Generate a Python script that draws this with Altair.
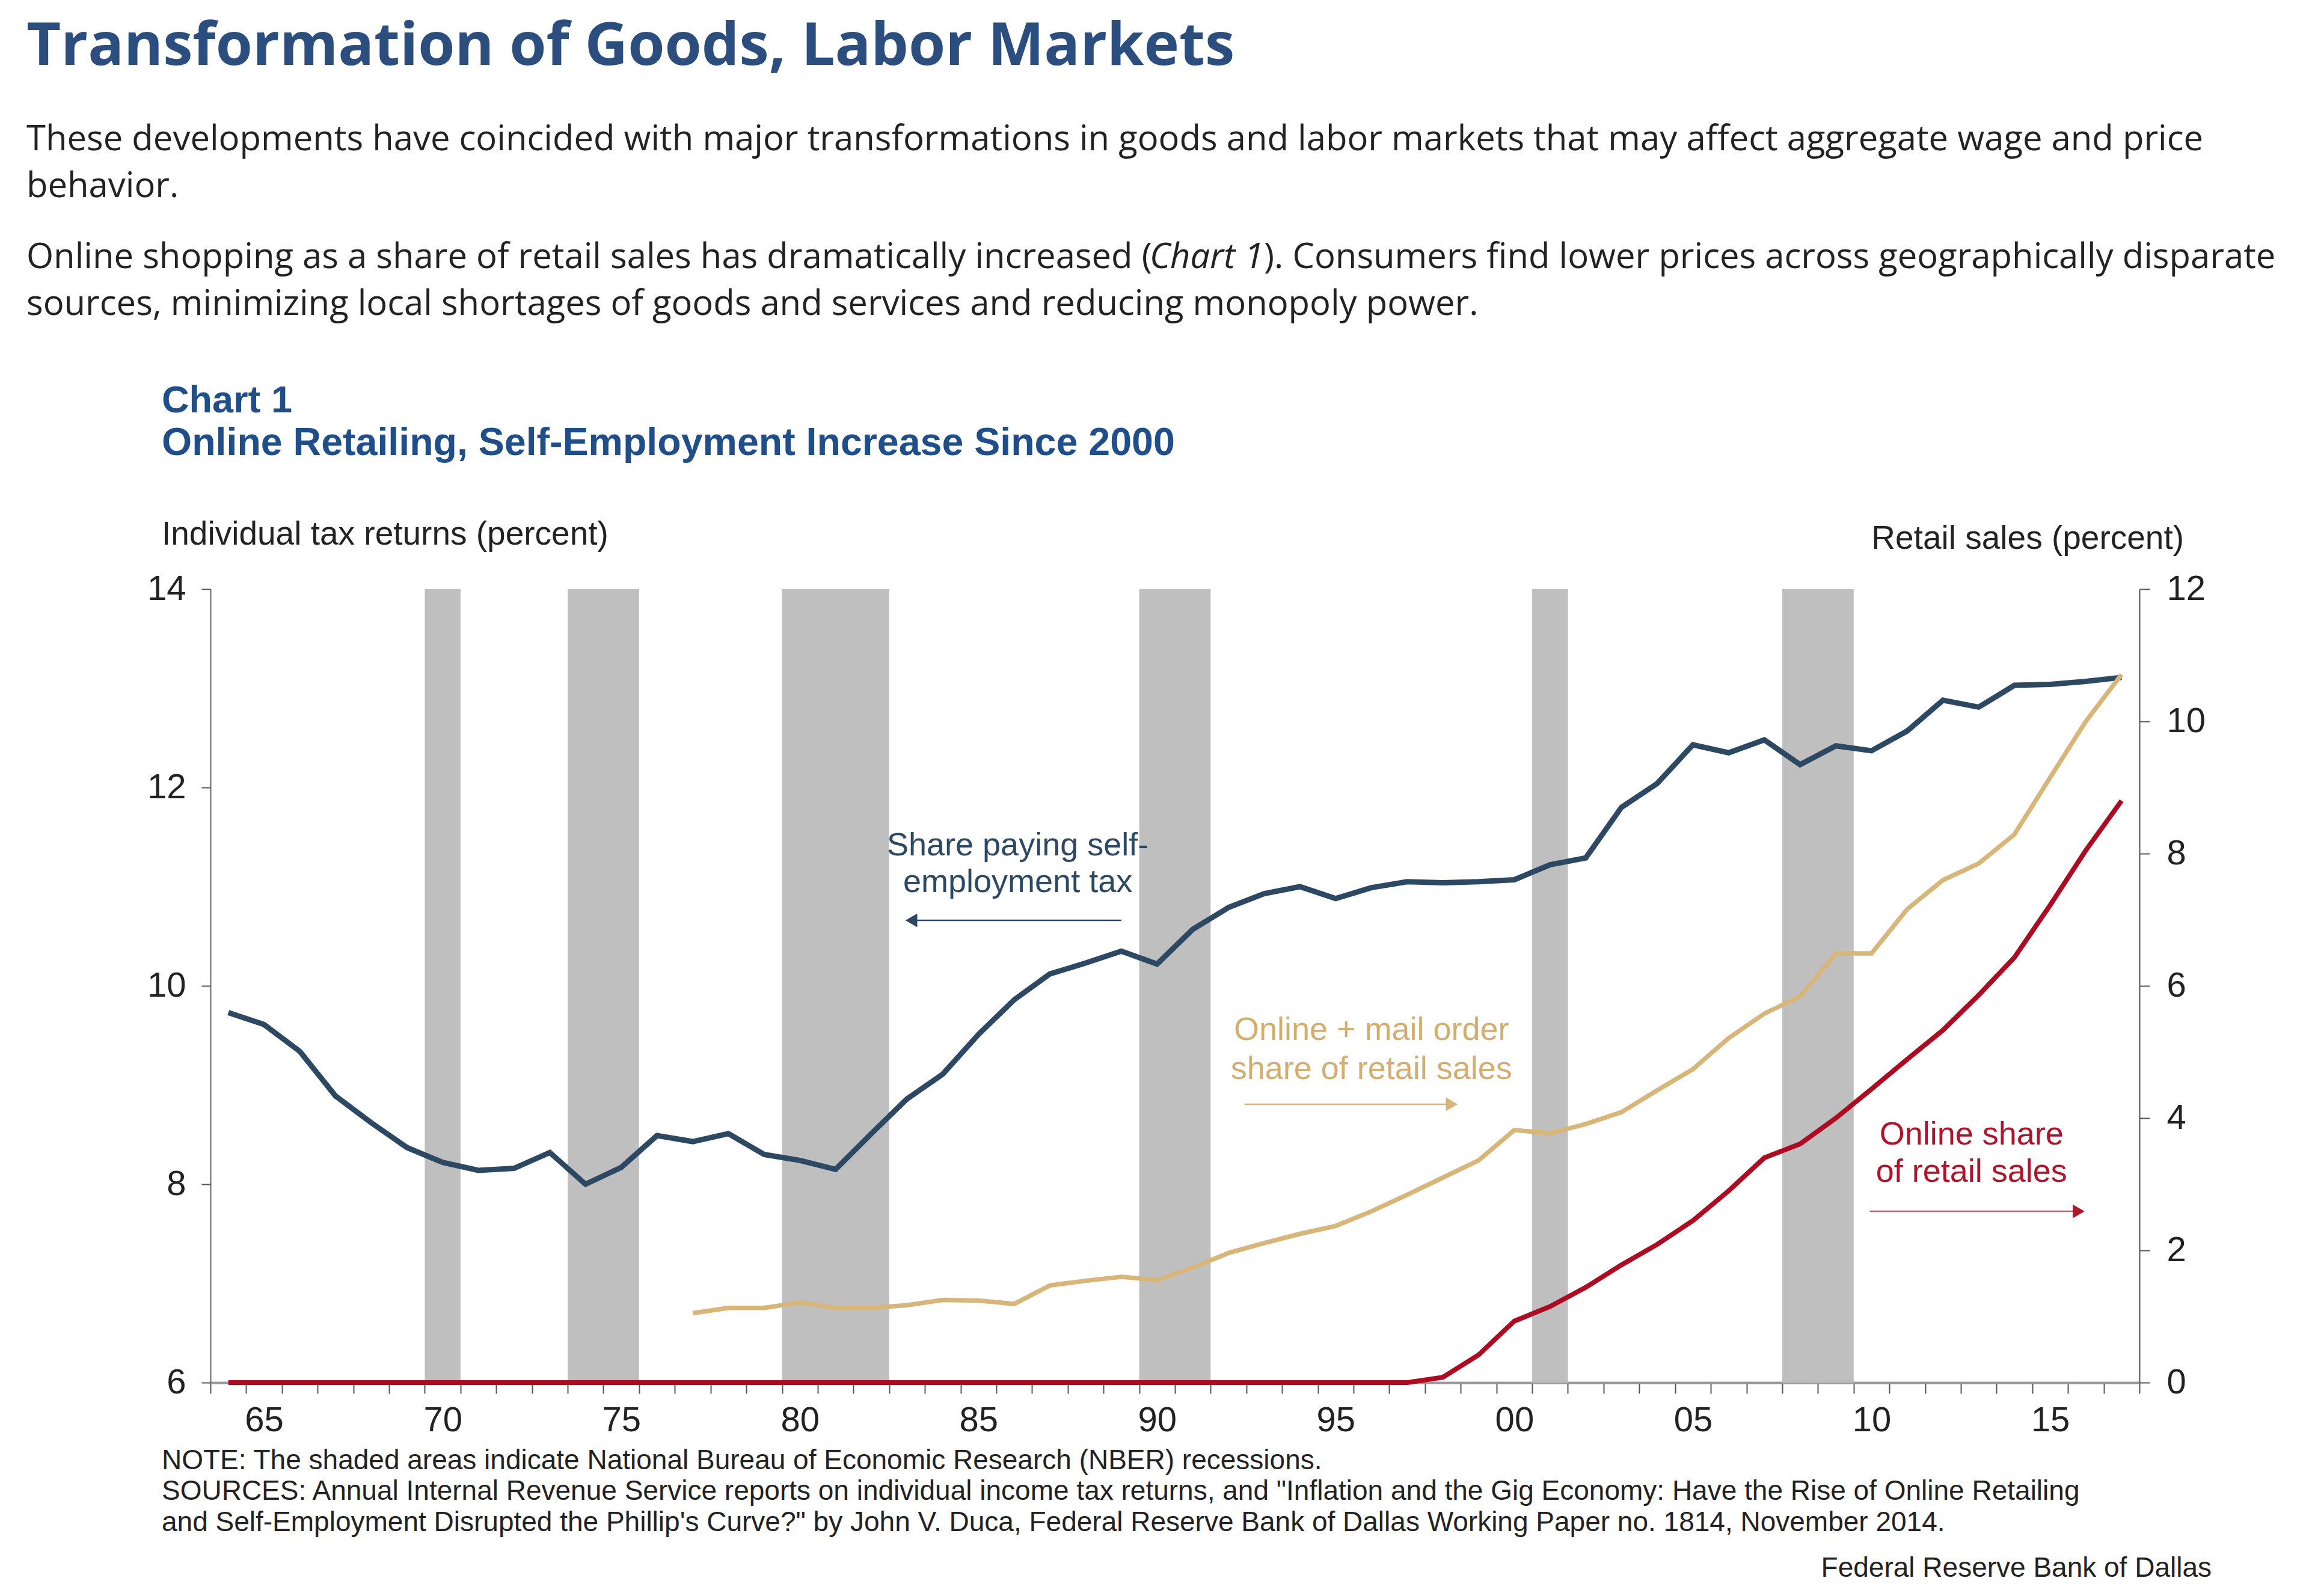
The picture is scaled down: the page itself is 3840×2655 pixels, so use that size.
import altair as alt
import pandas as pd

# ---------------- data ----------------
years = list(range(1964, 2018))
self_employment = [9.73, 9.61, 9.34, 8.89, 8.62, 8.37, 8.22, 8.14, 8.16, 8.32,
                   8.00, 8.17, 8.49, 8.43, 8.51, 8.30, 8.24, 8.15, 8.51, 8.86,
                   9.11, 9.51, 9.86, 10.12, 10.23, 10.35, 10.22, 10.57, 10.79, 10.93,
                   11.00, 10.88, 10.99, 11.05, 11.04, 11.05, 11.07, 11.22, 11.29, 11.80,
                   12.04, 12.43, 12.35, 12.48, 12.23, 12.42, 12.37, 12.57, 12.88, 12.81,
                   13.03, 13.04, 13.07, 13.11]
mail_years = list(range(1977, 2018))
online_mail = [1.05, 1.13, 1.13, 1.21, 1.13, 1.13, 1.17, 1.25, 1.24, 1.19,
               1.47, 1.54, 1.60, 1.55, 1.74, 1.96, 2.11, 2.25, 2.37, 2.59,
               2.84, 3.10, 3.36, 3.82, 3.77, 3.91, 4.09, 4.42, 4.74, 5.21,
               5.58, 5.84, 6.49, 6.49, 7.16, 7.60, 7.85, 8.29, 9.15, 10.00, 10.71]
online = [0.0] * 34 + [0.08, 0.42, 0.93, 1.15, 1.44, 1.78, 2.09, 2.45, 2.90, 3.40,
                       3.61, 4.00, 4.44, 4.89, 5.33, 5.86, 6.43, 7.22, 8.05, 8.80]
rec_start = [1970, 1974, 1980, 1990, 2001, 2008]
rec_end = [1971, 1976, 1983, 1992, 2002, 2010]
left_ticks = [6, 8, 10, 12, 14]
right_ticks = [0, 2, 4, 6, 8, 10, 12]

# ---------------- style ----------------
W, H = 3208, 1320
BLUE = "#2D4863"
GOLD = "#D8B579"
RED = "#AE0A22"
REC = "#BFBFBF"
CF = "Liberation Sans"
AF = "Liberation Sans"
PF = "Open Sans"

X_SCALE = alt.Scale(domain=[1964, 2018], nice=False, zero=False)
X_AXIS = alt.Axis(values=list(range(1964, 2019)),
                  labelExpr="datum.value % 5 == 0 ? substring(toString(datum.value), 2) : ''",
                  labelOffset=W / 54 / 2, labelFlush=False, labelOverlap=False,
                  tickSize=18, tickWidth=2, tickColor="#555555",
                  domainColor="#9A9A9A", domainWidth=4,
                  labelFont=AF, labelFontSize=58, labelColor="#222222", labelPadding=16,
                  title=None, grid=False)
YL_SCALE = alt.Scale(domain=[6, 14], nice=False, zero=False)
YL_AXIS = alt.Axis(orient="left", values=left_ticks, tickSize=15, tickWidth=2,
                   tickColor="#555555", domainColor="#666666", domainWidth=2,
                   labelFont=AF, labelFontSize=58, labelColor="#222222", labelPadding=26,
                   title=None, grid=False)
YR_SCALE = alt.Scale(domain=[0, 12], nice=False, zero=False)
YR_AXIS = alt.Axis(orient="right", values=right_ticks, tickSize=17, tickWidth=2,
                   tickColor="#555555", domainColor="#555555", domainWidth=2,
                   labelFont=AF, labelFontSize=58, labelColor="#222222", labelPadding=28,
                   title=None, grid=False)


def xe(field):
    return alt.X(field, type="quantitative", scale=X_SCALE, axis=X_AXIS)


def yl(field):
    return alt.Y(field, type="quantitative", scale=YL_SCALE, axis=YL_AXIS)


def yr(field):
    return alt.Y(field, type="quantitative", scale=YR_SCALE, axis=YR_AXIS)


# ---------------- tables ----------------
rec_df = pd.DataFrame({"s": rec_start, "e": rec_end,
                       "top": [14] * len(rec_start), "bot": [6] * len(rec_start)})
blue_df = pd.DataFrame({"x": [y + 0.5 for y in years], "v": self_employment})
gold_df = pd.DataFrame({"x": [y + 0.5 for y in mail_years], "v": online_mail})
red_df = pd.DataFrame({"x": [y + 0.5 for y in years], "v": online})

ANN = 54

# ---------------- left-scale group ----------------
rects = alt.Chart(rec_df).mark_rect(color=REC).encode(
    x=xe("s"), x2="e", y=yl("top"), y2="bot")
blue_line = alt.Chart(blue_df).mark_line(color=BLUE, strokeWidth=9).encode(
    x=xe("x"), y=yl("v"))

blue_txt = alt.Chart(pd.DataFrame({"x": [1986.6, 1986.6], "y": [11.41, 11.04],
                                   "t": ["Share paying self-", "employment tax"]})
                     ).mark_text(font=CF, fontSize=ANN, color=BLUE, align="center",
                                 baseline="middle").encode(x=xe("x"), y=yl("y"), text="t:N")
blue_rule = alt.Chart(pd.DataFrame({"x": [1983.6], "x2": [1989.5], "y": [10.66]})
                      ).mark_rule(color=BLUE, strokeWidth=2.5).encode(
    x=xe("x"), x2="x2", y=yl("y"))
blue_head = alt.Chart(pd.DataFrame({"x": [1983.62], "y": [10.66]})).mark_point(
    shape="triangle-left", filled=True, size=520, color=BLUE, opacity=1).encode(
    x=xe("x"), y=yl("y"))

left = alt.layer(rects, blue_line, blue_txt, blue_rule, blue_head)

# ---------------- right-scale group ----------------
gold_line = alt.Chart(gold_df).mark_line(color=GOLD, strokeWidth=7.5).encode(
    x=xe("x"), y=yr("v"))
red_line = alt.Chart(red_df).mark_line(color=RED, strokeWidth=8).encode(
    x=xe("x"), y=yr("v"))

gold_txt = alt.Chart(pd.DataFrame({"x": [1996.5, 1996.5], "y": [5.33, 4.74],
                                   "t": ["Online + mail order", "share of retail sales"]})
                     ).mark_text(font=CF, fontSize=ANN, color="#D4AE6E", align="center",
                                 baseline="middle").encode(x=xe("x"), y=yr("y"), text="t:N")
gold_rule = alt.Chart(pd.DataFrame({"x": [1992.95], "x2": [1998.75], "y": [4.21]})
                      ).mark_rule(color=GOLD, strokeWidth=2.5).encode(
    x=xe("x"), x2="x2", y=yr("y"))
gold_head = alt.Chart(pd.DataFrame({"x": [1998.75], "y": [4.21]})).mark_point(
    shape="triangle-right", filled=True, size=520, color=GOLD, opacity=1).encode(
    x=xe("x"), y=yr("y"))

red_txt = alt.Chart(pd.DataFrame({"x": [2013.3, 2013.3], "y": [3.75, 3.18],
                                  "t": ["Online share", "of retail sales"]})
                    ).mark_text(font=CF, fontSize=ANN, color="#B2132A", align="center",
                                baseline="middle").encode(x=xe("x"), y=yr("y"), text="t:N")
red_rule = alt.Chart(pd.DataFrame({"x": [2010.45], "x2": [2016.3], "y": [2.59]})
                     ).mark_rule(color="#D05A6A", strokeWidth=2.5).encode(
    x=xe("x"), x2="x2", y=yr("y"))
red_head = alt.Chart(pd.DataFrame({"x": [2016.3], "y": [2.59]})).mark_point(
    shape="triangle-right", filled=True, size=520, color="#B0182C", opacity=1).encode(
    x=xe("x"), y=yr("y"))

right = alt.layer(gold_line, red_line, gold_txt, gold_rule, gold_head,
                  red_txt, red_rule, red_head)


# ---------------- page text ----------------
def txt(s, px, py, size, font, color="#222222", weight="normal", align="left",
        style="normal"):
    return alt.Chart(pd.DataFrame({"t": [s]})).mark_text(
        font=font, fontSize=size, fontWeight=weight, fontStyle=style, color=color,
        align=align, baseline="alphabetic").encode(
        text="t:N", x=alt.value(px), y=alt.value(py))


PS = 58
texts = [
    txt("Transformation of Goods, Labor Markets", -306, -872, 99, PF, "#2C4E7E", "bold"),
    txt("These developments have coincided with major transformations in goods and labor "
        "markets that may affect aggregate wage and price", -306, -730, PS, PF),
    txt("behavior.", -306, -652, PS, PF),
    txt("Online shopping as a share of retail sales has dramatically increased (",
        -306, -534, PS, PF),
    txt("Chart 1", 1562, -534, PS, PF, style="italic"),
    txt("). Consumers find lower prices across geographically disparate",
        1752, -534, PS, PF),
    txt("sources, minimizing local shortages of goods and services and reducing "
        "monopoly power.", -306, -456, PS, PF),
    txt("Chart 1", -81, -294, 63, CF, "#1F4E8A", "bold"),
    txt("Online Retailing, Self-Employment Increase Since 2000", -81, -223, 64.5, CF,
        "#1F4E8A", "bold"),
    txt("Individual tax returns (percent)", -81, -74, 55, CF),
    txt("Retail sales (percent)", 3282, -67, 55, CF, align="right"),
    txt("NOTE: The shaded areas indicate National Bureau of Economic Research (NBER) "
        "recessions.", -81, 1464, 46, CF),
    txt("SOURCES: Annual Internal Revenue Service reports on individual income tax returns, "
        "and \"Inflation and the Gig Economy: Have the Rise of Online Retailing",
        -81, 1515, 46, CF),
    txt("and Self-Employment Disrupted the Phillip's Curve?\" by John V. Duca, Federal "
        "Reserve Bank of Dallas Working Paper no. 1814, November 2014.",
        -81, 1567, 46, CF),
    txt("Federal Reserve Bank of Dallas", 3328, 1643, 46, CF, align="right"),
]

chart = alt.layer(left, right, *texts).resolve_scale(y="independent").properties(
    width=W, height=H,
    padding={"left": 350, "top": 980, "right": 282, "bottom": 355},
    autosize=alt.AutoSizeParams(type="none"),
    background="white",
).configure_view(stroke=None)

chart.save("out.html", embed_options={"renderer": "svg", "actions": False})
